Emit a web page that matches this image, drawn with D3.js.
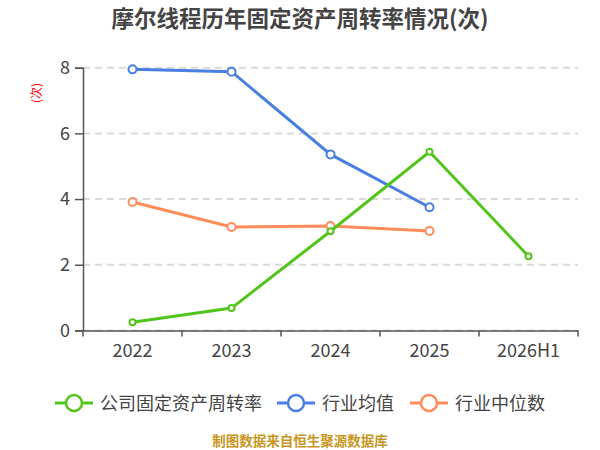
<!DOCTYPE html>
<html>
<head>
<meta charset="utf-8">
<script src="https://cdn.jsdelivr.net/npm/d3@7"></script>
<style>
  body { margin: 0; background: #fff; }
  text { font-family: "Noto Sans CJK SC", "Noto Sans", sans-serif; }
</style>
</head>
<body>
<script>
// data
var years = ['2022', '2023', '2024', '2025', '2026H1'];
var company = [0.25, 0.68, 3.02, 5.44, 2.26];
var industryMean = [7.95, 7.88, 5.36, 3.75];
var industryMedian = [3.91, 3.15, 3.18, 3.03];
var yTicks = [0, 2, 4, 6, 8];
var seriesNames = ['公司固定资产周转率', '行业均值', '行业中位数'];
var colors = ['#52c41a', '#4a7fe2', '#ff8c5a'];

var w = 600, h = 450;
var plotLeft = 83, plotRight = 578, plotTop = 67.7, plotBottom = 330.4;

var svg = d3.select('body').append('svg')
  .attr('width', w)
  .attr('height', h);

var x = d3.scaleBand().domain(years).range([plotLeft, plotRight]);
var y = d3.scaleLinear().domain([0, 8]).range([plotBottom, plotTop]);

// title
svg.append('text')
  .attr('x', 300).attr('y', 27)
  .attr('text-anchor', 'middle')
  .attr('font-size', 22.5).attr('font-weight', 'bold')
  .attr('fill', '#444')
  .text('摩尔线程历年固定资产周转率情况(次)');

// red unit mark
svg.append('text')
  .attr('transform', 'translate(41,93) rotate(-90)')
  .attr('text-anchor', 'middle')
  .attr('font-size', 12)
  .attr('fill', '#ff0000')
  .text('(次)');

// grid
svg.append('g').selectAll('line')
  .data(yTicks)
  .enter().append('line')
  .attr('x1', plotLeft).attr('x2', plotRight)
  .attr('y1', function(d){ return y(d); })
  .attr('y2', function(d){ return y(d); })
  .attr('stroke', '#d9d9d9')
  .attr('stroke-width', 2)
  .attr('stroke-dasharray', '7,5');

// y axis
var yAxis = svg.append('g')
  .attr('transform', 'translate(' + plotLeft + ',0)')
  .call(d3.axisLeft(y).tickValues(yTicks).tickSize(8).tickPadding(5));
yAxis.select('.domain').attr('stroke', '#555').attr('stroke-width', 1.5);
yAxis.selectAll('.tick line').attr('stroke', '#555').attr('stroke-width', 1.5);
yAxis.selectAll('.tick text').attr('font-size', 18).attr('fill', '#444')
  .attr('font-family', '"Noto Sans", sans-serif');

// x axis
var xAxis = svg.append('g')
  .attr('transform', 'translate(0,' + plotBottom + ')')
  .call(d3.axisBottom(x).tickSize(0).tickPadding(14));
xAxis.select('.domain').attr('stroke', '#555').attr('stroke-width', 1.5);
xAxis.selectAll('.tick text').attr('font-size', 18).attr('fill', '#444')
  .attr('font-family', '"Noto Sans", sans-serif');
// boundary ticks between categories
svg.append('g').selectAll('line')
  .data(years.concat(['end']))
  .enter().append('line')
  .attr('x1', function(d, i){ return plotLeft + i * x.bandwidth(); })
  .attr('x2', function(d, i){ return plotLeft + i * x.bandwidth(); })
  .attr('y1', plotBottom).attr('y2', plotBottom + 6)
  .attr('stroke', '#555').attr('stroke-width', 1.5);

var line = d3.line()
  .x(function(d, i){ return x(years[i]) + x.bandwidth() / 2; })
  .y(function(d){ return y(d); });

var allSeries = [company, industryMean, industryMedian];
// draw mean and median first, company on top
[1, 2, 0].forEach(function(s) {
  var data = allSeries[s];
  svg.append('path')
    .datum(data)
    .attr('d', line)
    .attr('fill', 'none')
    .attr('stroke', colors[s])
    .attr('stroke-width', 3);
  svg.append('g').selectAll('circle')
    .data(data)
    .enter().append('circle')
    .attr('cx', function(d, i){ return x(years[i]) + x.bandwidth() / 2; })
    .attr('cy', function(d){ return y(d); })
    .attr('r', s === 0 ? 3 : 4)
    .attr('fill', '#fff')
    .attr('stroke', colors[s])
    .attr('stroke-width', 2);
});

// legend
var legendX = [55, 277, 410];
var legend = svg.append('g').selectAll('g')
  .data(seriesNames)
  .enter().append('g')
  .attr('transform', function(d, i){ return 'translate(' + legendX[i] + ',403)'; });
legend.append('line')
  .attr('x1', 0).attr('x2', 38)
  .attr('stroke', function(d, i){ return colors[i]; })
  .attr('stroke-width', 3);
legend.append('circle')
  .attr('cx', 19).attr('r', 8)
  .attr('fill', '#fff')
  .attr('stroke', function(d, i){ return colors[i]; })
  .attr('stroke-width', 2.5);
legend.append('text')
  .attr('x', 45).attr('y', 6.5)
  .attr('font-size', 18)
  .attr('fill', '#444')
  .text(function(d){ return d; });

// source note
svg.append('text')
  .attr('x', 300).attr('y', 446)
  .attr('text-anchor', 'middle')
  .attr('font-size', 13.5).attr('font-weight', 'bold')
  .attr('fill', '#c8961e')
  .text('制图数据来自恒生聚源数据库');
</script>
</body>
</html>
